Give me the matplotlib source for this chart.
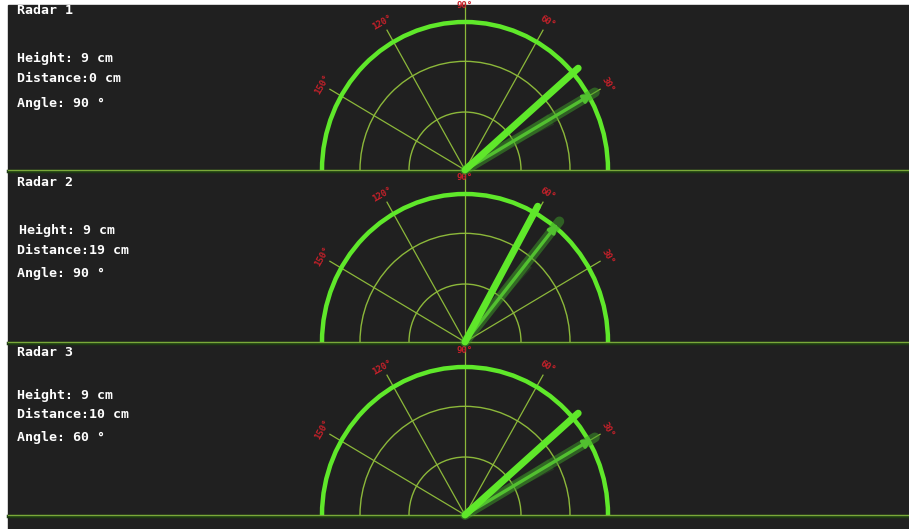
import numpy as np
import matplotlib
matplotlib.use("Agg")
import matplotlib.pyplot as plt
from matplotlib.patches import Arc, Rectangle, Wedge

# panel data
radar_names = ["Radar 1", "Radar 2", "Radar 3"]
heights = [9, 9, 9]
distances = [0, 19, 10]
angle_text = [90, 90, 60]
beam_angles = [41, 61, 41]      # bright sweep line (deg)
trail_angles = [30, 51, 30]     # dim trailing line (deg)
grid_angles = [30, 60, 90, 120, 150]
tick_labels = ["30°", "60°", "90°", "120°", "150°"]

# layout (pixels)
W, H = 909, 529
cx = 465
baselines = [170, 342, 515]
ky = 1.035   # slight vertical stretch of the screenshot

bg = "#202020"
grid_col = "#8cb83a"
bright = "#5fe82a"
dim = "#3f9e28"
red = "#c8202a"

fig = plt.figure(figsize=(W / 100, H / 100), dpi=100)
fig.patch.set_facecolor("white")
ax = fig.add_axes([0, 0, 1, 1])
ax.set_xlim(0, W)
ax.set_ylim(H, 0)
ax.axis("off")

ax.add_patch(Rectangle((8, 5), W - 8, H - 5, color=bg, zorder=0))


def pt(cy, ang, r):
    a = np.radians(ang)
    return cx + r * np.cos(a), cy - r * np.sin(a) * ky


# vertical offsets of text rows inside each panel
title_off = [5, 12, 11]
height_off = [53, 60, 53]
dist_off = [73, 80, 73]
angle_off = [99, 103, 96]

for i, cy in enumerate(baselines):
    # baseline
    ax.plot([8, W], [cy + 1, cy + 1], color="#1c3a12", lw=2.5, zorder=1)
    ax.plot([8, W], [cy, cy], color="#7aa83a", lw=1.0, zorder=2)

    # range rings
    for r, lw, col in [(56, 1.0, grid_col), (105, 1.0, grid_col), (143, 3.2, bright)]:
        ax.add_patch(Arc((cx, cy), 2 * r, 2 * r * ky, theta1=180, theta2=360,
                         color=col, lw=lw, zorder=3))

    # angle spokes + labels
    for ang, lab in zip(grid_angles, tick_labels):
        r_end = 162 if ang == 90 else 156
        x1, y1 = pt(cy, ang, r_end)
        ax.plot([cx, x1], [cy, y1], color=grid_col, lw=0.9, zorder=2)
        lx, ly = pt(cy, ang, 165 if ang != 90 else 159)
        ax.text(lx, ly, lab, color=red, fontsize=6.5, fontweight="bold",
                family="DejaVu Sans Mono", rotation=ang - 90,
                ha="center", va="center", zorder=4)

    # trailing sweep (faint)
    ax.add_patch(Wedge((cx, cy), 100, -trail_angles[i] - 4, -trail_angles[i] + 3,
                       color=dim, alpha=0.18, lw=0, zorder=4))
    tx, ty = pt(cy, trail_angles[i], 150)
    ax.plot([cx, tx], [cy, ty], color=dim, lw=7, alpha=0.5,
            solid_capstyle="round", zorder=5)
    ax.annotate("", xy=(tx, ty), xytext=(cx, cy),
                arrowprops=dict(arrowstyle="-|>,head_length=0.5,head_width=0.25",
                                color="#52c030", lw=2.4), zorder=5)

    # bright sweep line
    bx, by = pt(cy, beam_angles[i], 150)
    ax.plot([cx, bx], [cy, by], color=bright, lw=5, solid_capstyle="round", zorder=6)

    # info text
    top = baselines[i - 1] if i > 0 else 5
    tx0 = 19 if i == 1 else 17
    kw = dict(color="white", fontsize=9.5, family="DejaVu Sans Mono",
              fontweight="bold", va="center", ha="left")
    ax.text(17, top + title_off[i], radar_names[i], **kw)
    ax.text(tx0, top + height_off[i], f"Height: {heights[i]} cm", **kw)
    ax.text(17, top + dist_off[i], f"Distance:{distances[i]} cm", **kw)
    ax.text(17, top + angle_off[i], f"Angle: {angle_text[i]} °", **kw)

fig.savefig("out.png", dpi=100, facecolor=fig.get_facecolor())
